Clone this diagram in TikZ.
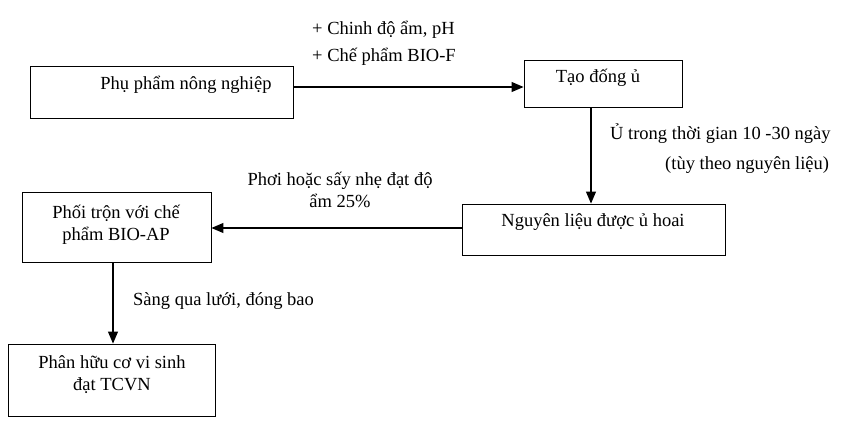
\documentclass[tikz,border=0pt]{standalone}
\usepackage{fontspec}
\setmainfont{Liberation Serif}
\usepackage{tikz}
\usetikzlibrary{arrows.meta,positioning}

\begin{document}
\begin{tikzpicture}[x=1pt,y=-1pt,>={Triangle[length=12pt,width=10pt]},
    box/.style={draw,line width=0.9pt,inner sep=0pt},
    link/.style={->,line width=1.1pt},
    txt/.style={inner sep=0pt,font=\fontsize{18.5}{22}\selectfont,align=center},
    lab/.style={inner sep=0pt,font=\fontsize{18.5}{22}\selectfont}]
    \useasboundingbox (0,0) rectangle (846,422);
    % boxes
    \node[box,minimum width=263pt,minimum height=52pt] (pp)  at (161.5,92)  {};
    \node[box,minimum width=158pt,minimum height=47pt] (td)  at (603,83.5)  {};
    \node[box,minimum width=263pt,minimum height=51pt] (nl)  at (593.5,229.5) {};
    \node[box,minimum width=189pt,minimum height=70pt] (pt)  at (116.5,227) {};
    \node[box,minimum width=207pt,minimum height=72pt] (phc) at (111.5,380) {};
    % box texts
    \node[txt,anchor=base] (ppT) at (186,90)  {Phụ phẩm nông nghiệp};
    \node[txt,anchor=base] (tdT) at (598,83)  {Tạo đống ủ};
    \node[txt,anchor=base] (nlT) at (593,227) {Nguyên liệu được ủ hoai};
    \node[txt] (ptT)  at (116,225) {Phối trộn với chế\\phẩm BIO-AP};
    \node[txt] (phcT) at (112,375) {Phân hữu cơ vi sinh\\đạt TCVN};
    % connectors
    \draw[link] (pp.east |- 0,87) -- (td.west |- 0,87);
    \draw[link] (td.south -| 591,0) -- (nl.north -| 591,0);
    \draw[link] (nl.west |- 0,228) -- (pt.east |- 0,228);
    \draw[link] (pt.south -| 113,0) -- (phc.north -| 113,0);
    % step notes
    \node[lab,anchor=base west] (n1a) at (312,35)  {+ Chinh độ ẩm, pH};
    \node[lab,anchor=base west] (n1b) at (312,62)  {+ Chế phẩm BIO-F};
    \node[lab,anchor=base west] (n2a) at (610,140) {Ủ trong thời gian 10 -30 ngày};
    \node[lab,anchor=base west] (n2b) at (665,170) {(tùy theo nguyên liệu)};
    \node[txt] (n3) at (340,190) {Phơi hoặc sấy nhẹ đạt độ\\ẩm 25\%};
    \node[lab,anchor=base west] (n4) at (133,305) {Sàng qua lưới, đóng bao};
\end{tikzpicture}
\end{document}
